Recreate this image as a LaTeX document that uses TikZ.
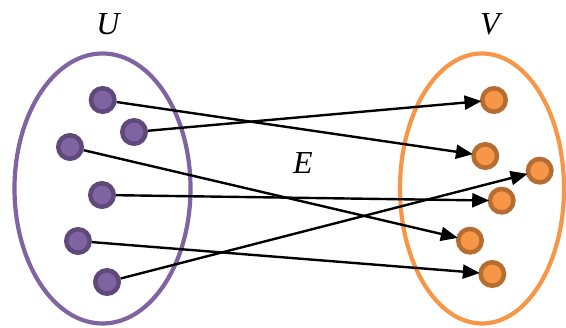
\documentclass[tikz,border=0pt]{standalone}
\usepackage{fontspec}
\setmainfont{Liberation Serif}
\usetikzlibrary{arrows.meta}
\definecolor{purp}{HTML}{8064A2}
\definecolor{purpdark}{HTML}{5F497A}
\definecolor{orng}{HTML}{F79646}
\definecolor{orngdark}{HTML}{B66D31}
\begin{document}
\begin{tikzpicture}[x=1pt,y=-1pt,
  udot/.style={circle,fill=purp,draw=purpdark,line width=4.5pt,minimum size=23.5pt,inner sep=0pt},
  vdot/.style={circle,fill=orng,draw=orngdark,line width=4.5pt,minimum size=23.5pt,inner sep=0pt},
  edge/.style={line width=2.4pt,-{Triangle[length=17pt,width=14pt]},shorten >=-1.5pt},
  lab/.style={font=\fontsize{32}{38}\selectfont\itshape}]
\useasboundingbox (0,0) rectangle (566,328);
\draw[purp,line width=4.2pt] (102.5,188.5) ellipse [x radius=88, y radius=135];
\draw[orng,line width=4.2pt] (482,188.5) ellipse [x radius=82, y radius=135];
\node[lab] (U) at (108,24) {U};
\node[lab] (V) at (490,24) {V};
\node[lab] (E) at (303,163) {E};
\node[udot] (u1) at (102.7,100) {};
\node[udot] (u2) at (134,132) {};
\node[udot] (u3) at (70,147) {};
\node[udot] (u4) at (102,195) {};
\node[udot] (u5) at (78,241) {};
\node[udot] (u6) at (107,282) {};
\node[vdot] (v1) at (494,100) {};
\node[vdot] (v2) at (485.3,156) {};
\node[vdot] (v3) at (539.7,170.7) {};
\node[vdot] (v4) at (501.7,200.7) {};
\node[vdot] (v5) at (470,240.7) {};
\node[vdot] (v6) at (492.3,274) {};
\draw[edge] (u1) -- (v2);
\draw[edge] (u2) -- (v1);
\draw[edge] (u3) -- (v5);
\draw[edge] (u4) -- (v4);
\draw[edge] (u5) -- (v6);
\draw[edge] (u6) -- (v3);
\end{tikzpicture}
\end{document}
